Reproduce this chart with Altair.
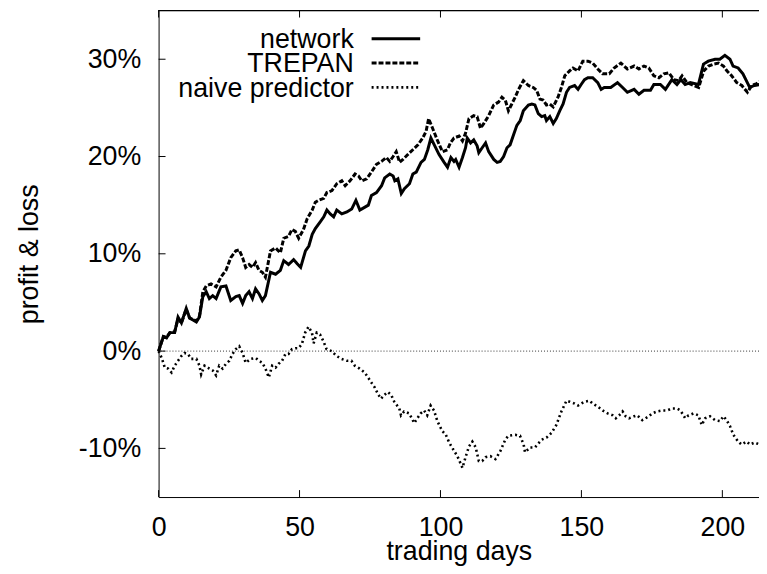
import altair as alt
import pandas as pd

# ---- data ----
net_days = [0, 1.7, 2.8, 4, 5.7, 6.9, 8.1, 9.8, 11, 13.4, 14.5, 15.7, 16.9, 18, 19.2, 20.4, 22.1, 23.9, 25.6, 27.4,
            28.6, 29.8, 30.9, 32.1, 33.3, 34.4, 35.6, 36.8, 37.9, 39.7, 41.5, 43.2, 44.4, 46.1, 47.9, 49.1, 50.4, 52.1,
            53.3, 54.5, 55.6, 57.4, 58.6, 59.7, 60.9, 62.1, 63.2, 65, 66.8, 68.5, 70, 71.4, 73.2, 74.4, 75.5, 77.3,
            79.1, 80.2, 82, 83.2, 83.8, 84.9, 86.1, 87.2, 89, 90.2, 91.4, 93.1, 94.3, 95.5, 96.6, 97.8, 99.5, 101.3,
            102.5, 103.7, 104.8, 105.4, 106.6, 107.8, 108.9, 109.5, 110.7, 111.8, 113, 113.6, 114.8, 116, 117.1,
            118.9, 120.1, 121.2, 122.4, 123.6, 124.7, 125.9, 127.1, 128.3, 129.4, 131.2, 132.4, 133.5, 134.7, 135.9,
            137, 137.6, 138.8, 140, 141.1, 142.3, 143.5, 144.7, 145.8, 147.6, 148.8, 149.9, 151.1, 152.3, 154, 155.8,
            157, 158.1, 160.4, 162.8, 164.6, 166.3, 168.7, 170.4, 172.2, 174.5, 175.7, 178, 179.8, 182.1, 183.9,
            185.3, 186.8, 188.6, 191.5, 193.3, 195, 197.4, 199.1, 200.9, 202.7, 203.8, 205.6, 207.3, 209.7, 211.4,
            213.2]
net_vals = [0, 1.5, 1.35, 1.9, 1.9, 3.5, 2.9, 4.4, 3.4, 3.0, 3.5, 5.6, 6.1, 5.4, 5.7, 5.4, 6.6, 6.7, 5.2, 5.6,
            5.7, 4.9, 5.7, 6.1, 5.4, 6.4, 5.9, 5.2, 5.7, 8.1, 7.9, 8.3, 9.3, 8.9, 9.4, 9.0, 8.6, 10.3,
            10.8, 12.0, 12.6, 13.3, 13.8, 14.5, 14.1, 13.8, 14.5, 14.1, 14.3, 14.6, 15.5, 14.5, 14.8, 15.0, 16.0, 16.3,
            17.0, 17.8, 18.2, 18.0, 17.5, 17.7, 16.2, 16.7, 17.2, 18.2, 18.4, 19.4, 19.7, 20.7, 21.9, 21.2, 20.2, 19.4,
            18.9, 19.9, 19.5, 19.7, 18.9, 19.9, 20.9, 21.9, 21.4, 21.7, 21.1, 20.4, 20.9, 21.4, 20.5,
            19.7, 19.4, 19.5, 20.0, 20.9, 21.2, 22.2, 23.2, 23.7, 24.7, 25.3, 25.4, 25.3, 24.4, 24.1,
            24.2, 23.7, 24.1, 23.4, 23.9, 24.7, 25.4, 26.6, 27.1, 27.3, 26.9, 27.4, 27.9, 28.1, 28.1, 27.6,
            26.9, 27.1, 27.1, 27.6, 27.1, 26.6, 26.9, 26.4, 26.8, 26.8, 27.4, 27.4, 26.9, 27.9, 27.4,
            27.9, 27.4, 27.6, 27.4, 29.5, 29.8, 30.0, 30.0, 30.4, 30.0, 29.3, 29.1, 28.5, 27.1, 27.3,
            27.4]

trep_days = [0, 1.7, 2.8, 4, 5.7, 6.9, 8.1, 9.8, 11, 13.4, 14.5, 15.7, 16.9, 18.6, 20.4, 22.1, 23.9, 25.6, 27.4,
             28.6, 29.8, 30.9, 32.1, 33.3, 34.4, 35.6, 36.8, 37.9, 39.7, 41.5, 43.2, 44.4, 46.1, 47.3, 48.5, 49.7,
             51.4, 52.7, 54.5, 55.6, 56.8, 58.6, 59.7, 61.5, 63.2, 65, 66.2, 67.9, 69.7, 70.9, 72.1, 73.8, 75.5,
             77.3, 79.1, 80.8, 82, 83.2, 84.3, 85.5, 86.7, 88.4, 90.2, 92, 93.7, 94.9, 95.8, 97.2, 99, 100.7, 102.5,
             103.5, 104.8, 106.6, 107.8, 108.9, 110.1, 111.8, 113, 114.2, 115.4, 117.1, 118.9, 120.6, 121.8, 123,
             124.1, 125.3, 126.5, 127.7, 129.4, 131.2, 132.9, 134.1, 135.3, 136.4, 137.6, 138.8, 140, 141.7, 142.9,
             144.1, 145.8, 147, 148.8, 150.5, 152.3, 154, 155.8, 157.5, 159.9, 161.6, 164, 166.3, 168.7, 170.4,
             172.2, 173.9, 175.7, 177.5, 179.2, 181, 182.8, 184.5, 185.7, 187.4, 189.9, 191.6, 193.4, 195.1, 196.9,
             198.7, 200.4, 201.6, 203.3, 205.1, 206.9, 208.9, 210.4, 212.2, 213.2]
trep_vals = [0, 1.5, 1.4, 1.9, 2.0, 3.3, 2.9, 4.3, 3.4, 3.1, 3.6, 6.1, 6.7, 6.9, 6.6, 7.6, 8.3, 9.6, 10.3,
             10.4, 9.6, 8.6, 8.9, 8.6, 9.1, 8.3, 8.1, 7.6, 10.3, 10.6, 10.1, 11.6, 11.8, 12.5, 12.3, 11.6,
             12.5, 13.6, 14.5, 15.3, 15.5, 15.7, 16.3, 16.5, 17.2, 17.5, 17.0, 17.5, 18.2, 18.0, 17.5, 17.7, 18.4,
             19.2, 19.5, 19.9, 19.5, 20.0, 20.5, 19.4, 19.7, 20.2, 20.7, 21.2, 21.9, 22.6, 23.9, 22.9, 21.6, 20.5, 20.7,
             21.4, 21.9, 22.1, 21.6, 22.4, 23.9, 24.2, 24.1, 22.9, 23.4, 24.2, 25.3, 25.6, 26.1, 25.8,
             24.7, 25.4, 26.1, 26.9, 27.8, 27.3, 27.1, 26.8, 25.9, 25.8, 25.3, 25.4, 25.1, 26.1, 27.1,
             28.3, 28.8, 29.1, 28.8, 29.8, 29.8, 29.6, 29.0, 28.5, 28.5, 29.1, 29.6, 29.0, 29.3, 29.0,
             29.3, 29.1, 28.3, 28.1, 28.5, 28.6, 27.9, 27.8, 28.3, 27.6, 27.3, 27.1, 28.8, 29.3, 29.5,
             29.6, 29.3, 28.8, 28.3, 27.6, 27.3, 26.6, 27.3, 27.5, 27.7]

naive_days = [0, 1.1, 2.2, 3.4, 4.6, 5.7, 6.9, 8.1, 9.2, 10.4, 11.6, 13.4, 14.5, 15.1, 16.3, 18, 19.2, 20.4, 21.5,
              22.7, 23.9, 25.1, 26.2, 27.4, 28.6, 29.8, 30.9, 32.7, 34.4, 35.6, 36.8, 37.9, 39.1, 40.3, 41.5, 42.6,
              43.8, 45, 46.1, 47.3, 48.5, 49.6, 50.8, 52, 53.2, 54.4, 55, 56.1, 57.3, 58.5, 59.6, 61.4, 63.1, 64.9,
              66.8, 68.4, 69.6, 71.3, 73.1, 74.3, 75.4, 76.6, 77.8, 78.9, 80.1, 81.3, 82.5, 83.6, 85.4, 86, 87.1,
              88.9, 90.7, 91.8, 93, 94.2, 95.3, 96.5, 97.7, 98.9, 100.6, 101.9, 103.1, 104.3, 106, 107.8, 108.9,
              110.1, 111.3, 112.5, 113.6, 114.8, 116, 117.7, 119.5, 121.2, 123, 124.1, 126.5, 128.2, 129.5, 130,
              131.8, 133.5, 135.9, 137.6, 139.4, 141.1, 142.9, 144.7, 145.8, 147.6, 148.8, 149.9, 151.1, 152.9, 154,
              155.8, 157.5, 159.3, 161.1, 162.2, 163.4, 164.6, 165.7, 166.9, 168.7, 169.8, 171.6, 172.8, 173.9,
              175.1, 176.9, 178.6, 180.4, 182.1, 183.9, 185.1, 186.2, 186.8, 188, 189.8, 191.5, 192.7, 193.9, 195.6,
              197.4, 199.2, 200.4, 201.5, 202.7, 203.9, 205.6, 206.8, 208.6, 209.8, 211.5, 213.2]
naive_vals = [0, -0.7, -1.7, -1.8, -2.2, -1.5, -1.0, -0.5, -0.2, -0.3, -0.8, -0.8, -1.5, -2.4, -1.5, -1.8, -2.0,
              -2.5, -1.5, -1.8, -1.3, -1.0, -0.3, 0.2, 0.5, -0.2, -1.2, -0.8, -0.7, -1.0, -1.2, -1.8, -2.7, -1.5,
              -1.7, -1.3, -1.0, -0.3, -0.3, 0.2, 0.3, 0.3, 0.7, 1.9, 2.5, 1.9, 0.8, 1.9, 1.7, 1.0, 0.2, 0.0, -0.5,
              -0.8, -1.0, -1.0, -1.5, -1.8, -2.2, -2.7, -3.2, -3.7, -4.4, -4.9, -4.5, -4.2, -4.5, -5.2, -5.9, -6.6,
              -6.2, -6.4, -7.4, -6.9, -6.4, -6.1, -6.6, -5.6, -6.1, -7.2, -8.2, -8.6, -9.4, -10.0, -10.8, -12.0,
              -10.9, -9.8, -9.3, -9.9, -11.3, -11.3, -10.9, -10.8, -11.1, -10.3, -9.1, -8.7, -8.6, -8.7, -9.6,
              -10.4, -9.9, -9.9, -9.1, -8.9, -8.4, -7.6, -6.2, -5.1, -5.2, -5.4, -5.6, -5.4, -5.2, -5.1, -5.4,
              -5.7, -6.1, -6.4, -6.6, -6.9, -6.6, -6.2, -6.7, -6.9, -6.7, -6.6, -7.1, -6.9, -6.7, -6.4, -6.2,
              -6.1, -6.1, -5.9, -5.9, -6.1, -6.6, -6.9, -6.6, -6.4, -6.6, -7.6, -6.9, -6.7, -7.1, -7.2, -6.7,
              -7.1, -7.7, -8.6, -9.3, -9.6, -9.3, -9.6, -9.4, -9.6]

series_names = ["network", "TREPAN", "naive predictor"]
x_ticks = [0, 50, 100, 150, 200]
y_ticks = [-10, 0, 10, 20, 30]
x_domain = [0, 213]
y_domain = [-15, 35]

W, H = 606, 491
FONT = "Liberation Sans"
FS = 27
TICK = 7

xs = alt.Scale(domain=x_domain, nice=False, zero=False)
ys = alt.Scale(domain=y_domain, nice=False, zero=False)

styles = {
    "network": dict(strokeWidth=3),
    "TREPAN": dict(strokeWidth=3, strokeDash=[5, 2]),
    "naive predictor": dict(strokeWidth=2.6, strokeDash=[2, 3]),
}

x_axis = alt.Axis(values=x_ticks, ticks=False, domain=True, domainColor="black", domainWidth=1,
                  labelFont=FONT, labelFontSize=FS, labelColor="black", labelPadding=18, labelFlush=False,
                  title="trading days", titleFont=FONT, titleFontSize=FS, titleFontWeight="normal",
                  titleColor="black", titlePadding=-2, grid=False)
y_axis = alt.Axis(values=y_ticks, ticks=False, domain=True, domainColor="black", domainWidth=1,
                  labelFont=FONT, labelFontSize=FS, labelColor="black", labelPadding=18,
                  labelExpr="datum.value + '%'",
                  title="profit & loss", titleFont=FONT, titleFontSize=FS, titleFontWeight="normal",
                  titleColor="black", titlePadding=35, grid=False)

X = lambda f: alt.X(f, scale=xs, axis=x_axis, title="trading days")
Y = lambda f: alt.Y(f, scale=ys, axis=y_axis, title="profit & loss")


def line_chart(days, vals, name):
    df = pd.DataFrame({"day": days, "pl": vals})
    return alt.Chart(df).mark_line(color="black", **styles[name]).encode(x=X("day:Q"), y=Y("pl:Q"))


layers = []
layers.append(line_chart(net_days, net_vals, "network"))
# zero line (dotted)
layers.append(alt.Chart(pd.DataFrame({"z": [0]})).mark_rule(
    color="#333", strokeWidth=1, strokeDash=[1, 2]).encode(y=Y("z:Q")))
layers.append(line_chart(trep_days, trep_vals, "TREPAN"))
layers.append(line_chart(naive_days, naive_vals, "naive predictor"))

# inward ticks (bottom, top, left)
xt = pd.DataFrame({"t": x_ticks})
yt = pd.DataFrame({"t": y_ticks})
layers.append(alt.Chart(xt).mark_rule(color="black", strokeWidth=1).encode(
    x=X("t:Q"), y=alt.value(H), y2=alt.value(H - TICK)))
layers.append(alt.Chart(xt).mark_rule(color="black", strokeWidth=1).encode(
    x=X("t:Q"), y=alt.value(0), y2=alt.value(TICK)))
layers.append(alt.Chart(yt).mark_rule(color="black", strokeWidth=1).encode(
    y=Y("t:Q"), x=alt.value(0), x2=alt.value(TICK)))
# top border
layers.append(alt.Chart(xt).mark_rule(color="black", strokeWidth=1).encode(
    x=alt.value(0), x2=alt.value(W + 2), y=alt.value(0)))

# legend (gnuplot style: label, then sample)
leg_base = [38, 62.5, 87]
for name, yy in zip(series_names, leg_base):
    layers.append(alt.Chart(pd.DataFrame({"label": [name]})).mark_text(
        align="right", baseline="alphabetic", font=FONT, fontSize=FS, color="black").encode(
        text="label:N", x=alt.value(197), y=alt.value(yy)))
    layers.append(alt.Chart(pd.DataFrame({"label": [name]})).mark_rule(color="black", **styles[name]).encode(
        x=alt.value(215), x2=alt.value(264), y=alt.value(yy - 9.5)))

chart = alt.layer(*layers).properties(
    width=W, height=H,
    autosize=alt.AutoSizeParams(type="none"),
    padding={"left": 152, "top": 0, "right": 0, "bottom": 67},
    background="white",
).configure_view(stroke=None)

chart.save("out.html", embed_options={"renderer": "svg", "actions": False})
